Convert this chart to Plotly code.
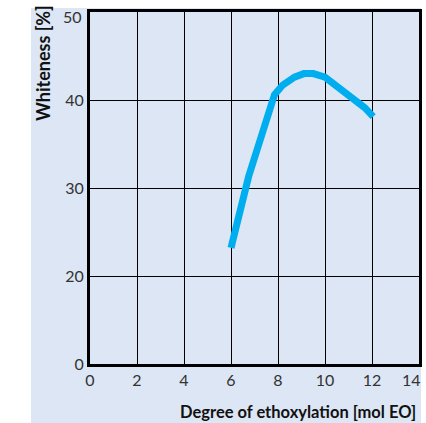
import plotly.graph_objects as go

# Data
eo_degree = [6.0, 6.75, 7.85, 8.2, 8.7, 9.1, 9.5, 10.0, 11.7, 12.05]
whiteness = [23.2, 31.3, 40.6, 41.7, 42.6, 43.0, 43.0, 42.6, 39.1, 38.1]

x_ticks = [0, 2, 4, 6, 8, 10, 12, 14]
x_ticktext = ["0", "2", "4", "6", "8", "10", "12", "14"]
y_tickvals = [10, 20, 30, 40, 50]
y_ticktext = ["0", "20", "30", "40", "50"]

BG = "#dce6f4"
FONT = "Lato"

fig = go.Figure()
fig.add_trace(go.Scatter(
    x=eo_degree, y=whiteness, mode="lines",
    line=dict(color="#00aeef", width=7),
    showlegend=False, hoverinfo="skip",
))

W, H = 426, 423
L, R, T, B = 90, 7, 12, 59
pw, ph = W - L - R, H - T - B

fig.add_shape(type="rect", xref="paper", yref="paper", layer="below",
              x0=(31 - L) / pw, x1=(421 - L) / pw,
              y0=(H - B - 423) / ph, y1=(H - B - 8) / ph,
              fillcolor=BG, line=dict(width=0))

tickfont = dict(size=16, color="#333333", family=FONT)

# Edge tick labels are nudged inward (as in the original), drawn as annotations
x_text_main = x_ticktext[:-1] + [""]
y_text_main = y_ticktext[:-1] + [""]

annotations = [
    dict(text=x_ticktext[-1], x=x_ticks[-1], xref="x", y=0, yref="paper",
         yanchor="top", xanchor="center", xshift=-8, yshift=-4,
         showarrow=False, font=tickfont),
    dict(text=y_ticktext[-1], x=0, xref="paper", y=y_tickvals[-1], yref="y",
         xanchor="right", yanchor="middle", xshift=-6, yshift=-4,
         showarrow=False, font=tickfont),
    dict(text="<b>Whiteness [%]</b>", xref="paper", yref="paper",
         x=(43 - L) / pw, y=(H - B - 63) / ph, textangle=-90,
         showarrow=False, font=dict(size=18, color="#111111", family=FONT),
         xanchor="center", yanchor="middle"),
    dict(text="<b>Degree of ethoxylation [mol EO]</b>", xref="paper", yref="paper",
         x=(418 - L) / pw, y=(H - B - 412) / ph,
         showarrow=False, font=dict(size=16.5, color="#111111", family=FONT),
         xanchor="right", yanchor="middle"),
]

fig.update_layout(
    width=W, height=H,
    margin=dict(l=L, r=R, t=T, b=B, autoexpand=False),
    paper_bgcolor="white",
    plot_bgcolor="rgba(0,0,0,0)",
    font=dict(family=FONT, size=16, color="#333333"),
    xaxis=dict(range=[0, 14], tickvals=x_ticks, ticktext=x_text_main,
               showgrid=True, automargin=False,
               gridcolor="black", gridwidth=1, showline=True,
               linecolor="black", linewidth=3, mirror=True,
               zeroline=False, ticks="", tickfont=tickfont),
    yaxis=dict(range=[10, 50], tickvals=y_tickvals, ticktext=y_text_main,
               showgrid=True, automargin=False,
               gridcolor="black", gridwidth=1, showline=True,
               linecolor="black", linewidth=3, mirror=True,
               zeroline=False, ticks="", tickfont=tickfont),
    annotations=annotations,
)

fig.write_html("out.html", config={"displayModeBar": False},
               post_script="document.body.style.margin='0';")
